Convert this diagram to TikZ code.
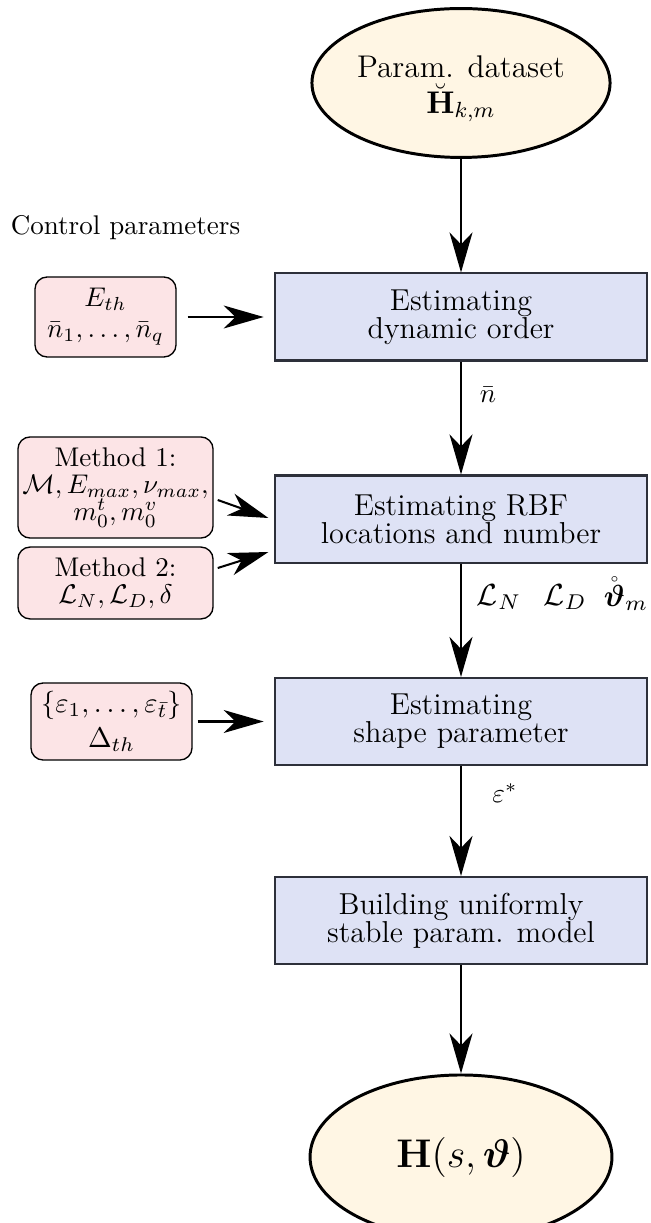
\RequirePackage{fix-cm}
\documentclass[tikz,border=0pt]{standalone}
\usepackage{amsmath,amssymb}
\usetikzlibrary{arrows.meta,shapes.geometric}
\definecolor{boxblue}{RGB}{222,226,245}
\definecolor{boxedge}{RGB}{45,48,58}
\definecolor{boxpink}{RGB}{252,228,230}
\definecolor{cream}{RGB}{255,246,228}
\begin{document}
\begin{tikzpicture}[x=0.37pt,y=-0.37pt,
  bluebox/.style={draw=boxedge, line width=0.75pt, fill=boxblue, minimum width=137.3pt, minimum height=32.2pt, inner sep=0pt, align=center, font=\fontsize{11.2}{10.3}\selectfont},
  pinkbox/.style={draw=black, line width=0.5pt, fill=boxpink, rounded corners=4.5pt, inner sep=0.5pt, align=center, font=\fontsize{10}{10}\selectfont},
  ell/.style={ellipse, draw=black, line width=1.1pt, fill=cream, inner sep=0pt, align=center},
  arr/.style={-{Stealth[length=14.8pt,width=8.5pt,inset=4.4pt]}, line width=0.75pt},
  lbl/.style={inner sep=0pt, font=\fontsize{10}{12}\selectfont},
  biglbl/.style={inner sep=0pt, font=\fontsize{11.3}{13}\selectfont}]
\useasboundingbox (0,0) rectangle (650,1223);

\node[ell, minimum width=110.3pt, minimum height=55.1pt] (top) at (461,83) {};
\node[inner sep=0pt, align=center, font=\fontsize{11.6}{10}\selectfont] (toptext) at (461,89) {Param. dataset\\[1pt] $\breve{\mathbf{H}}_{k,m}$};

\node[bluebox] (b1) at (461,317) {Estimating\\ dynamic order};
\node[bluebox] (b2) at (461,519) {Estimating RBF\\ locations and number};
\node[bluebox] (b3) at (461,721.5) {Estimating\\ shape parameter};
\node[bluebox] (b4) at (461,920.5) {Building uniformly\\ stable param. model};

\node[ell, minimum width=111.7pt, minimum height=60.7pt, font=\fontsize{14.8}{16}\selectfont] (bot) at (461,1157) {$\mathbf{H}(s,\boldsymbol{\vartheta})$};

\node[lbl] (ctrl) at (125.5,228) {Control parameters};

\node[pinkbox, minimum width=52.2pt, minimum height=29.6pt, font=\fontsize{10}{11.5}\selectfont] (pA) at (105.5,317) {$E_{th}$\\ $\bar{n}_1,\ldots,\bar{n}_q$};
\node[pinkbox, minimum width=72.2pt, minimum height=37.4pt] (pB) at (115.5,487.5) {Method 1:\\ $\mathcal{M},E_{max},\nu_{max},$\\ $m_0^t,m_0^v$};
\node[pinkbox, minimum width=72.2pt, minimum height=26.6pt] (pC) at (115.5,583) {Method 2:\\ $\mathcal{L}_N,\mathcal{L}_D,\delta$};
\node[pinkbox, minimum width=59.6pt, minimum height=28.5pt, font=\fontsize{10.5}{13}\selectfont] (pD) at (111.5,721.5) {$\{\varepsilon_1,\ldots,\varepsilon_{\bar{t}}\}$\\ $\Delta_{th}$};

\node[lbl] (lnbar) at (488,395) {$\bar{n}$};
\node[biglbl] (lLN) at (499,597) {$\mathcal{L}_N$};
\node[biglbl] (lLD) at (565,597) {$\mathcal{L}_D$};
\node[biglbl] (lth) at (626,594) {$\mathring{\boldsymbol{\vartheta}}_m$};
\node[lbl] (leps) at (505,793) {$\varepsilon^*$};

\draw[arr] (top) -- (b1);
\draw[arr] (b1) -- (b2);
\draw[arr] (b2) -- (b3);
\draw[arr] (b3) -- (b4);
\draw[arr] (b4) -- (bot);

\draw[arr, shorten <=4pt, shorten >=4pt] (pA) -- (b1);
\draw[arr] ([shift={(4,12.5)}]pB.east) -- ([shift={(-6,-1)}]b2.west);
\draw[arr] ([shift={(4,-15)}]pC.east) -- ([shift={(-6,33)}]b2.west);
\draw[arr, shorten <=1.8pt, shorten >=4pt] (pD) -- (b3);
\end{tikzpicture}
\end{document}
